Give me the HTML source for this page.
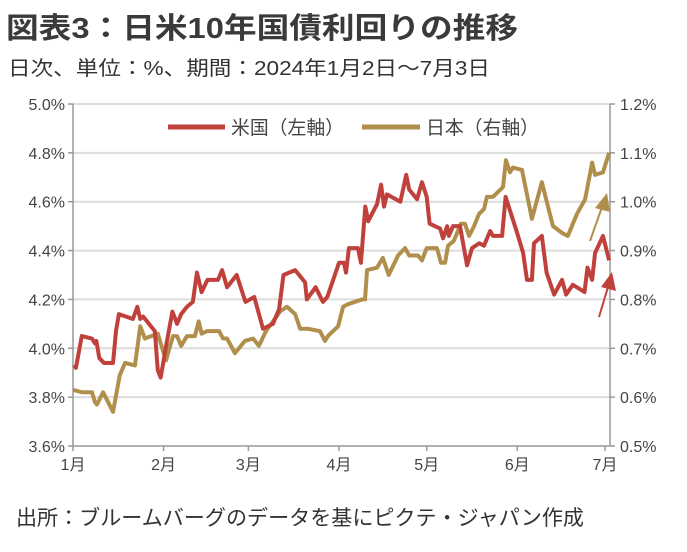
<!DOCTYPE html>
<html><head><meta charset="utf-8">
<style>
body{margin:0;background:#fff;width:687px;height:547px;overflow:hidden;font-family:"Liberation Sans","Noto Sans CJK JP",sans-serif;}
svg text{font-family:"Liberation Sans","Noto Sans CJK JP",sans-serif;}
</style></head><body>
<svg id="c" width="687" height="547">
<text x="6" y="38" font-size="29" font-weight="bold" fill="#3a3a3a" textLength="512" lengthAdjust="spacingAndGlyphs">図表3：日米10年国債利回りの推移</text>
<text x="8" y="75" font-size="20" fill="#333" textLength="482" lengthAdjust="spacingAndGlyphs">日次、単位：%、期間：2024年1月2日～7月3日</text>
<text x="16" y="525" font-size="21" fill="#333" textLength="568" lengthAdjust="spacingAndGlyphs">出所：ブルームバーグのデータを基にピクテ・ジャパン作成</text>
<g id="grid"></g><g id="axes"></g><g id="series"></g>
<g>
<line x1="168" y1="127" x2="225" y2="127" stroke="#c0413b" stroke-width="5"/>
<text x="231" y="134" font-size="19" fill="#444" textLength="113" lengthAdjust="spacingAndGlyphs">米国（左軸）</text>
<line x1="362" y1="127" x2="420" y2="127" stroke="#b08f4c" stroke-width="5"/>
<text x="426" y="134" font-size="19" fill="#444" textLength="113" lengthAdjust="spacingAndGlyphs">日本（右軸）</text>
</g>
<g>
<line x1="590" y1="241" x2="602" y2="207" stroke="#b08f4c" stroke-width="2"/>
<polygon points="607,193 595,208 610,212" fill="#b08f4c"/>
<line x1="599" y1="317" x2="608" y2="287" stroke="#c0413b" stroke-width="2"/>
<polygon points="612,272 601,287 616,291" fill="#c0413b"/>
</g>
</svg>
<script>
const leftTicks=["3.6%","3.8%","4.0%","4.2%","4.4%","4.6%","4.8%","5.0%"];
const leftTickValues=[3.6,3.8,4.0,4.2,4.4,4.6,4.8,5.0];
const rightTicks=["0.5%","0.6%","0.7%","0.8%","0.9%","1.0%","1.1%","1.2%"];
const rightTickValues=[0.5,0.6,0.7,0.8,0.9,1.0,1.1,1.2];
const monthLabels=["1月","2月","3月","4月","5月","6月","7月"];
const monthDays=[0,31,60,91,121,152,182];
const usDays=[0.3,1,3,6.5,7.5,8,9,10.6,13.7,14.7,15.7,20.5,22,23,24,28,29,30,32,34,35.6,37,39,41,42.4,44,46,49.6,51,52.7,56,59,62,65,68.4,70.5,72,76,79.4,80,83,85.5,87,91,92.7,93.4,94.4,97.5,98.5,100,101,104,105.4,106.4,107.4,112,114,115,117.7,119.4,121,122,125.6,126.6,128,128.6,130,132.4,134.8,136.5,139,140.6,142.7,143.7,146.8,148,152,154,155.3,157,157.7,160.4,162,164.6,167.3,168.7,171,175,176,177.6,178.6,181.3,183.4];
const usValues=[3.93,3.92,4.05,4.04,4.02,4.03,3.96,3.94,3.94,4.07,4.14,4.12,4.17,4.12,4.13,4.07,3.91,3.88,4.02,4.15,4.10,4.14,4.17,4.19,4.31,4.23,4.28,4.28,4.32,4.25,4.30,4.19,4.21,4.08,4.10,4.16,4.30,4.32,4.27,4.20,4.25,4.19,4.21,4.35,4.35,4.31,4.41,4.41,4.35,4.58,4.52,4.59,4.67,4.58,4.63,4.60,4.71,4.65,4.61,4.68,4.62,4.51,4.49,4.45,4.50,4.46,4.50,4.50,4.34,4.41,4.43,4.42,4.48,4.46,4.46,4.62,4.47,4.39,4.28,4.28,4.43,4.46,4.31,4.22,4.28,4.22,4.26,4.23,4.33,4.28,4.39,4.46,4.36];
const jpDays=[0,3,6.5,7.5,8.2,10.3,13.7,16,17.8,21.2,23,24.6,29,31.8,34.2,35.6,37,39,41.7,43,44,45.8,50,51.3,52.7,55.4,58.8,61.6,63.6,66,70.8,73.2,76,77.7,80.4,84.5,86.2,87.2,90.7,92.4,94,98.9,99.9,100.6,104,106,108,111.2,113.6,115,118,119.4,121,124.5,125.9,127.3,128.3,130.3,132.7,134.1,135.5,137.2,138.9,140.6,141.6,143.7,147.1,148.1,149.5,150.5,153.6,155.3,157,160.4,162.5,164.2,167.6,169.3,172.4,175.2,177.6,178.6,181.3,183.4];
const jpValues=[0.615,0.61,0.61,0.59,0.585,0.61,0.57,0.645,0.67,0.665,0.745,0.72,0.73,0.675,0.725,0.725,0.705,0.725,0.725,0.755,0.73,0.735,0.735,0.72,0.72,0.69,0.715,0.72,0.705,0.735,0.775,0.785,0.77,0.74,0.74,0.735,0.715,0.725,0.745,0.785,0.79,0.80,0.80,0.86,0.865,0.885,0.85,0.89,0.905,0.89,0.89,0.88,0.905,0.905,0.875,0.875,0.91,0.92,0.955,0.955,0.93,0.95,0.975,0.985,1.01,1.01,1.03,1.085,1.06,1.07,1.065,1.015,0.965,1.04,0.99,0.95,0.935,0.93,0.975,1.005,1.08,1.055,1.06,1.10];
const NS="http://www.w3.org/2000/svg";
const X0=73,X1=610,Y0=446,Y1=104;
const xs=d=>X0+d*(605-X0)/182;
const yl=v=>Y0-(v-3.6)/1.4*(Y0-Y1);
const yr=v=>Y0-(v-0.5)/0.7*(Y0-Y1);
function mk(tag,attrs,parent){const e=document.createElementNS(NS,tag);for(const k in attrs)e.setAttribute(k,attrs[k]);parent.appendChild(e);return e;}
const grid=document.getElementById('grid'),axes=document.getElementById('axes'),ser=document.getElementById('series');
leftTickValues.forEach((v,i)=>{
  const y=yl(v);
  if(i>0){const g=mk('line',{x1:X0,x2:X1,y1:y,y2:y,stroke:'#dcdcdc','stroke-width':2},grid);
  
  }
  const t=mk('line',{x1:X0-5,x2:X0,y1:y,y2:y,stroke:'#999','stroke-width':1.5},axes);
  
  
  const l=mk('text',{x:X0-8,y:y+6,'font-size':16,fill:'#444','text-anchor':'end'},axes);l.textContent=leftTicks[i];
  
  
});
rightTickValues.forEach((v,i)=>{
  const y=yr(v);
  const t=mk('line',{x1:X1,x2:X1+5,y1:y,y2:y,stroke:'#999','stroke-width':1.5},axes);
  
  
  const l=mk('text',{x:X1+10,y:y+6,'font-size':16,fill:'#444'},axes);l.textContent=rightTicks[i];
  
  
});
monthDays.forEach((d,i)=>{
  const x=xs(d);
  const t=mk('line',{x1:x,x2:x,y1:Y0,y2:Y0+5,stroke:'#999','stroke-width':1.5},axes);
  
  
  const l=mk('text',{x:x,y:Y0+24,'font-size':16,fill:'#444','text-anchor':'middle'},axes);l.textContent=monthLabels[i];
  
  
});
const la=mk('line',{x1:X0,x2:X0,y1:Y1,y2:Y0,stroke:'#999','stroke-width':1.5},axes);


const ra=mk('line',{x1:X1,x2:X1,y1:Y1,y2:Y0,stroke:'#999','stroke-width':1.5},axes);


const ba=mk('line',{x1:X0,x2:X1,y1:Y0,y2:Y0,stroke:'#999','stroke-width':1.5},axes);


const jp=mk('polyline',{points:jpDays.map((d,i)=>xs(d)+','+yr(jpValues[i])).join(' '),fill:'none',stroke:'#b08f4c','stroke-width':4,'stroke-linejoin':'round'},ser);


const us=mk('polyline',{points:usDays.map((d,i)=>xs(d)+','+yl(usValues[i])).join(' '),fill:'none',stroke:'#c0413b','stroke-width':4,'stroke-linejoin':'round'},ser);


</script>
</body></html>
